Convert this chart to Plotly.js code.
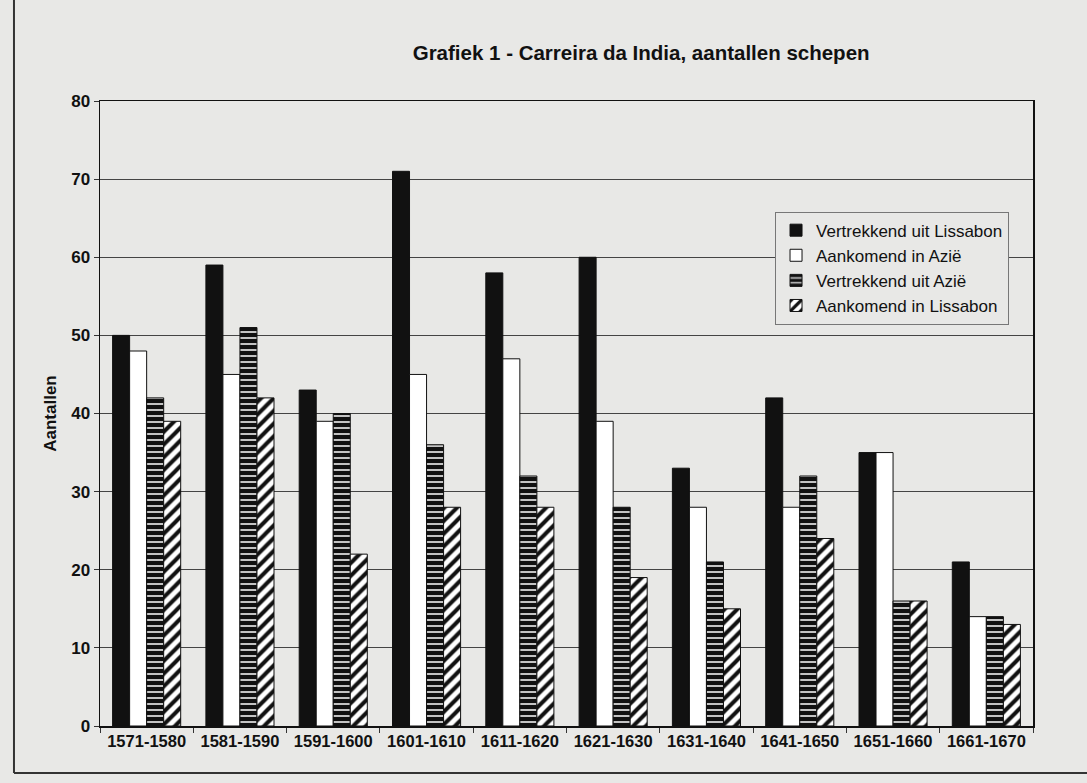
<!DOCTYPE html>
<html>
<head>
<meta charset="utf-8">
<script src="https://cdn.plot.ly/plotly-3.0.1.min.js"></script>
<style>
  html, body { margin: 0; padding: 0; background: #e8e8e6; }
  #chart { width: 1087px; height: 783px; }
</style>
</head>
<body>
<div id="chart"></div>
<script>
// Data
const categories = ['1571-1580', '1581-1590', '1591-1600', '1601-1610', '1611-1620',
                    '1621-1630', '1631-1640', '1641-1650', '1651-1660', '1661-1670'];
const vertrekkendLissabon = [50, 59, 43, 71, 58, 60, 33, 42, 35, 21];
const aankomendAzie       = [48, 45, 39, 45, 47, 39, 28, 28, 35, 14];
const vertrekkendAzie     = [42, 51, 40, 36, 32, 28, 21, 32, 16, 14];
const aankomendLissabon   = [39, 42, 22, 28, 28, 19, 15, 24, 16, 13];
const seriesNames = ['Vertrekkend uit Lissabon', 'Aankomend in Azië', 'Vertrekkend uit Azië', 'Aankomend in Lissabon'];
const yTicks = [0, 10, 20, 30, 40, 50, 60, 70, 80];

const paperColor = '#e8e8e6';
const fontFam = '"Liberation Sans", Arial, Helvetica, sans-serif';
const outline = { color: '#111', width: 1 };

const traces = [
  { type: 'bar', name: seriesNames[0], x: categories, y: vertrekkendLissabon,
    marker: { color: '#111', line: outline } },
  { type: 'bar', name: seriesNames[1], x: categories, y: aankomendAzie,
    marker: { color: '#ffffff', line: outline } },
  { type: 'bar', name: seriesNames[2], x: categories, y: vertrekkendAzie,
    marker: { color: '#111', line: outline,
      pattern: { shape: '-', bgcolor: '#111', fgcolor: '#d8d8d8', size: 6, solidity: 0.3, fillmode: 'replace' } } },
  { type: 'bar', name: seriesNames[3], x: categories, y: aankomendLissabon,
    marker: { color: '#ffffff', line: outline,
      pattern: { shape: '/', bgcolor: '#ffffff', fgcolor: '#111', size: 9, solidity: 0.45, fillmode: 'replace' } } }
];

const layout = {
  width: 1087, height: 783,
  paper_bgcolor: paperColor,
  plot_bgcolor: paperColor,
  margin: { l: 100, r: 54, t: 101, b: 57 },
  barmode: 'group',
  bargap: 0.27,
  bargroupgap: 0,
  font: { family: fontFam, color: '#111' },
  title: {
    text: 'Grafiek 1 - Carreira da India, aantallen schepen',
    font: { family: fontFam, size: 20.5, weight: 'bold', color: '#111' },
    x: 0.58, xref: 'paper', xanchor: 'center',
    y: 0.933, yref: 'container', yanchor: 'middle'
  },
  xaxis: {
    type: 'category',
    tickson: 'boundaries',
    ticks: 'outside', ticklen: 5, tickcolor: '#333',
    showline: true, mirror: true, linecolor: '#111', linewidth: 1.5,
    showgrid: false,
    tickfont: { family: fontFam, size: 16.5, weight: 'bold', color: '#111' }
  },
  yaxis: {
    range: [0, 80],
    tickvals: yTicks,
    ticks: 'outside', ticklen: 5, tickcolor: '#333',
    showline: true, mirror: true, linecolor: '#111', linewidth: 1.5,
    showgrid: true, gridcolor: '#444', gridwidth: 1,
    zeroline: false,
    tickfont: { family: fontFam, size: 17, weight: 'bold', color: '#111' },
    title: { text: 'Aantallen', standoff: 10,
      font: { family: fontFam, size: 17, weight: 'bold', color: '#111' } }
  },
  legend: {
    x: 0.7235, y: 0.823, xanchor: 'left', yanchor: 'top',
    bgcolor: paperColor, bordercolor: '#777', borderwidth: 1,
    font: { family: fontFam, size: 17, color: '#111' },
    traceorder: 'normal',
    itemwidth: 30,
    tracegroupgap: 0
  },
  shapes: [
    { type: 'line', xref: 'paper', yref: 'paper', x0: -0.0922, x1: -0.0922, y0: -0.0752, y1: 1.17,
      line: { color: '#333', width: 2 } },
    { type: 'line', xref: 'paper', yref: 'paper', x0: -0.0922, x1: 1.06, y0: -0.0752, y1: -0.0752,
      line: { color: '#333', width: 2 } }
  ],
  showlegend: true
};

Plotly.newPlot('chart', traces, layout, { staticPlot: true, displayModeBar: false });
</script>
</body>
</html>
